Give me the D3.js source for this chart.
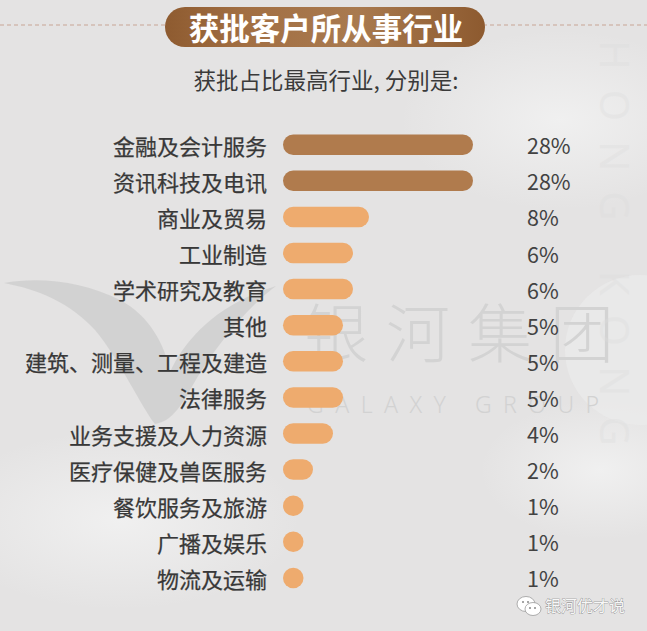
<!DOCTYPE html>
<html><head><meta charset="utf-8">
<script src="https://cdn.jsdelivr.net/npm/d3@7"></script>
<style>
html,body{margin:0;padding:0;background:#e5e4e4;}
svg{display:block;}
</style></head>
<body>
<script>
const categories = ["金融及会计服务","资讯科技及电讯","商业及贸易","工业制造","学术研究及教育","其他","建筑、测量、工程及建造","法律服务","业务支援及人力资源","医疗保健及兽医服务","餐饮服务及旅游","广播及娱乐","物流及运输"];
const values = [28,28,8,6,6,5,5,5,4,2,1,1,1];
const valueLabels = ["28%","28%","8%","6%","6%","5%","5%","5%","4%","2%","1%","1%","1%"];
const titleText = "获批客户所从事行业";
const subtitleText = "获批占比最高行业, 分别是:";
const wmCN = "银河集团";
const wmEN = "GALAXY GROUP";
const wmSide = "HONG KONG";
const wechatName = "银河优才说";

const W = 647, H = 631;
const svg = d3.select("body").append("svg").attr("width", W).attr("height", H);
const defs = svg.append("defs");
const FONT = "'Noto Sans CJK SC','Noto Sans',sans-serif";

// background
const bgGrad = defs.append("radialGradient").attr("id","bgw").attr("cx","50%").attr("cy","50%").attr("r","50%");
bgGrad.append("stop").attr("offset","0%").attr("stop-color","#f3f3f3").attr("stop-opacity",0.8);
bgGrad.append("stop").attr("offset","100%").attr("stop-color","#f3f3f3").attr("stop-opacity",0);
svg.append("rect").attr("width",W).attr("height",H).attr("fill","#e4e3e3");
svg.append("ellipse").attr("cx",560).attr("cy",120).attr("rx",160).attr("ry",90).attr("fill","url(#bgw)");
svg.append("ellipse").attr("cx",120).attr("cy",520).attr("rx",180).attr("ry",90).attr("fill","url(#bgw)");
svg.append("ellipse").attr("cx",600).attr("cy",470).attr("rx",120).attr("ry",70).attr("fill","url(#bgw)");
svg.append("circle").attr("cx",640).attr("cy",350).attr("r",75).attr("fill","#ececec").attr("opacity",0.6);

// bird-like logo watermark
svg.append("path")
  .attr("d","M4,283 C40,276 85,282 120,300 C150,316 165,345 170,372 C185,340 215,305 276,286 C250,305 215,345 190,390 C178,412 168,422 155,424 C140,405 120,360 95,330 C70,303 40,290 4,283 Z")
  .attr("fill","#cccccc").attr("opacity",0.75);

// watermark text
svg.append("text").attr("x",304).attr("y",357).text(wmCN)
  .attr("font-family",FONT).attr("font-weight",300).attr("font-size",64)
  .attr("letter-spacing",18).attr("fill","#d3d3d3");
svg.append("text").attr("x",307).attr("y",413).text(wmEN)
  .attr("font-family","'Noto Sans',sans-serif").attr("font-weight",300).attr("font-size",23)
  .attr("letter-spacing",11.5).attr("fill","#d2d2d2");

// vertical faint text on right edge
svg.append("text").attr("transform","translate(600,40) rotate(90)").text(wmSide)
  .attr("font-family","'Noto Sans',sans-serif").attr("font-size",40).attr("letter-spacing",20)
  .attr("fill","#dcdcdc").attr("opacity",0.35);

// dashed line
svg.append("line").attr("x1",0).attr("x2",W).attr("y1",25).attr("y2",25)
  .attr("stroke","#c8a596").attr("stroke-width",1.2).attr("stroke-dasharray","4,3");

// title pill
const pg = defs.append("linearGradient").attr("id","pill").attr("x1","0").attr("x2","1").attr("y1","0").attr("y2","0");
pg.append("stop").attr("offset","0%").attr("stop-color","#8e5b30");
pg.append("stop").attr("offset","25%").attr("stop-color","#a26f43");
pg.append("stop").attr("offset","60%").attr("stop-color","#a97a4f");
pg.append("stop").attr("offset","100%").attr("stop-color","#8d5a2f");
svg.append("rect").attr("x",165).attr("y",7).attr("width",320).attr("height",40).attr("rx",20)
  .attr("fill","url(#pill)");
svg.append("text").attr("x",326).attr("y",27).attr("text-anchor","middle").attr("dominant-baseline","central")
  .attr("font-family",FONT).attr("font-weight",700).attr("font-size",30.5).attr("fill","#ffffff")
  .text(titleText);

// subtitle
svg.append("text").attr("x",326).attr("y",79).attr("text-anchor","middle").attr("dominant-baseline","central")
  .attr("font-family",FONT).attr("font-size",22.5).attr("fill","#3a3a3a").text(subtitleText);

// scales
const y = d3.scalePoint().domain(categories).range([144.7, 577.9]);
const x = d3.scaleLinear().domain([0,6,8,28]).range([10,70,86,190]);
const x0 = 283, barH = 20.5;
const color = v => v >= 20 ? "#b07b4d" : "#eeab6e";

const rows = svg.append("g").selectAll("g").data(categories).join("g")
  .attr("transform", d => `translate(0,${y(d)})`);

rows.append("text").attr("x",267).attr("y",0).attr("text-anchor","end").attr("dominant-baseline","central")
  .attr("font-family",FONT).attr("font-size",22).attr("fill","#383838")
  .attr("stroke","#383838").attr("stroke-width",0.25).text(d => d);

rows.append("rect")
  .attr("x",x0).attr("y",-barH/2)
  .attr("width",(d,i)=>Math.max(barH, x(values[i])))
  .attr("height",barH).attr("rx",barH/2)
  .attr("fill",(d,i)=>color(values[i]));

rows.append("text").attr("x",527).attr("y",0).attr("dominant-baseline","central")
  .attr("font-family",FONT).attr("font-size",21.5).attr("fill","#424242").text((d,i)=>valueLabels[i]);

// wechat watermark
const wx = svg.append("g").attr("transform","translate(517,597)");
wx.append("ellipse").attr("cx",9).attr("cy",7).attr("rx",9).attr("ry",7.5).attr("fill","#ffffff").attr("stroke","#9a9a9a").attr("stroke-width",0.8);
wx.append("ellipse").attr("cx",16).attr("cy",12).attr("rx",8).attr("ry",6.5).attr("fill","#ffffff").attr("stroke","#9a9a9a").attr("stroke-width",0.8);
[[6,5],[11,5],[13,11],[18,11]].forEach(p=>wx.append("circle").attr("cx",p[0]).attr("cy",p[1]).attr("r",1).attr("fill","#888"));
svg.append("text").attr("x",545).attr("y",605).attr("dominant-baseline","central")
  .attr("font-family",FONT).attr("font-size",16).attr("fill","#f7f7f7")
  .attr("stroke","#7a7a7a").attr("stroke-width",0.6).attr("paint-order","stroke")
  .text(wechatName);
</script>
</body></html>
